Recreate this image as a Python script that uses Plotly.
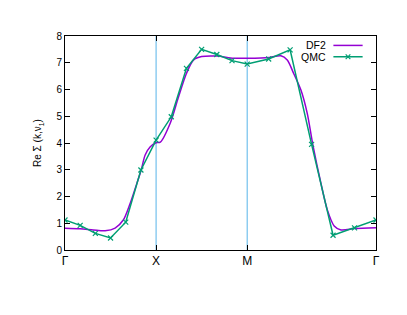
import numpy as np
import plotly.graph_objects as go

SQ2 = float(np.sqrt(2))

# High-symmetry points along the path (distance in units of pi)
tick_labels = ["Γ", "X", "M", "Γ"]
tick_pos = [0.0, 1.0, 2.0, 2.0 + SQ2]

# QMC data: 6 steps per segment
qmc_gx = [1.12, 0.92, 0.62, 0.45, 1.04, 2.99, 4.11]
qmc_xm = [4.98, 6.79, 7.50, 7.31, 7.08, 6.95]
qmc_mg = [7.14, 7.48, 3.95, 0.55, 0.83, 1.12]

# DF2 data
df2_k = [0.0, 0.165, 0.31, 0.44, 0.55, 0.64, 0.716, 0.79, 0.837, 0.88, 0.936, 1.0,
         1.046, 1.156, 1.244, 1.333, 1.41, 1.5, 1.667, 1.85, 2.0, 2.245, 2.37, 2.44,
         2.51, 2.59, 2.66, 2.72, 2.81, 2.88, 2.955, 3.03, 3.18, 3.414]
df2_v = [0.81, 0.79, 0.75, 0.72, 0.82, 1.12, 1.75, 2.5, 3.0, 3.55, 3.86, 4.01,
         4.03, 4.75, 5.7, 6.6, 7.1, 7.23, 7.25, 7.17, 7.17, 7.2, 7.26, 7.1,
         6.6, 5.98, 5.1, 3.95, 2.49, 1.5, 0.9, 0.75, 0.8, 0.83]

series_names = ["DF2", "QMC"]

# build QMC k positions
qmc_k = list(np.linspace(tick_pos[0], tick_pos[1], 7)) + \
        list(np.linspace(tick_pos[1], tick_pos[2], 7)[1:]) + \
        list(np.linspace(tick_pos[2], tick_pos[3], 7)[1:])
qmc_v = qmc_gx + qmc_xm + qmc_mg

PURPLE = "#9400d3"
GREEN = "#009e73"
CYAN = "#56b4e9"
FONT = "Liberation Sans, Arial, sans-serif"

fig = go.Figure()

for xp in tick_pos[1:3]:
    fig.add_shape(type="line", x0=xp, x1=xp, y0=0, y1=8, xref="x", yref="y",
                  line=dict(color=CYAN, width=1), layer="below")

fig.add_trace(go.Scatter(x=df2_k, y=df2_v, mode="lines", name=series_names[0],
                         line=dict(color=PURPLE, width=1.5, shape="spline", smoothing=0.8)))
fig.add_trace(go.Scatter(x=qmc_k, y=qmc_v, mode="lines+markers", name=series_names[1],
                         line=dict(color=GREEN, width=1.5),
                         marker=dict(symbol="x-thin", size=5,
                                     line=dict(color=GREEN, width=1.2), color=GREEN)))

# gnuplot-style key: text right-aligned, sample line to its right
key_rows = [(series_names[0], PURPLE, 0.956, False), (series_names[1], GREEN, 0.903, True)]
for name, col, yk, mark in key_rows:
    fig.add_annotation(x=0.845, y=yk, xref="paper", yref="paper", text=name,
                       showarrow=False, xanchor="right", yanchor="middle",
                       font=dict(size=10.5, color="black"))
    fig.add_shape(type="line", xref="paper", yref="paper", x0=0.863, x1=0.957,
                  y0=yk, y1=yk, line=dict(color=col, width=1.5))
    if mark:
        dx, dy = 0.0075, 0.011
        xc = 0.91
        fig.add_shape(type="path", xref="paper", yref="paper",
                      path=f"M {xc-dx} {yk-dy} L {xc+dx} {yk+dy} M {xc-dx} {yk+dy} L {xc+dx} {yk-dy}",
                      line=dict(color=col, width=1.2))

# page body has an 8px margin, so the figure is shifted by 8px
fig.update_layout(
    width=399, height=307,
    margin=dict(l=57, r=31, t=28, b=65),
    paper_bgcolor="white", plot_bgcolor="white",
    font=dict(family=FONT, size=11, color="black"),
    showlegend=False,
)
fig.update_xaxes(range=[tick_pos[0], tick_pos[-1]], tickvals=tick_pos, ticktext=tick_labels,
                 showgrid=False, zeroline=False, showline=True, linecolor="black",
                 linewidth=1, mirror="ticks", ticks="inside", ticklen=5,
                 tickcolor="black", tickfont=dict(size=12))
fig.update_yaxes(range=[0, 8], dtick=1, showgrid=False, zeroline=False, showline=True,
                 linecolor="black", linewidth=1, mirror="ticks", ticks="inside", ticklen=5,
                 tickcolor="black", tickfont=dict(size=10),
                 title=dict(text="Re Σ (k,ν<sub>1</sub>)", font=dict(size=10), standoff=12))

fig.write_html("out.html")
